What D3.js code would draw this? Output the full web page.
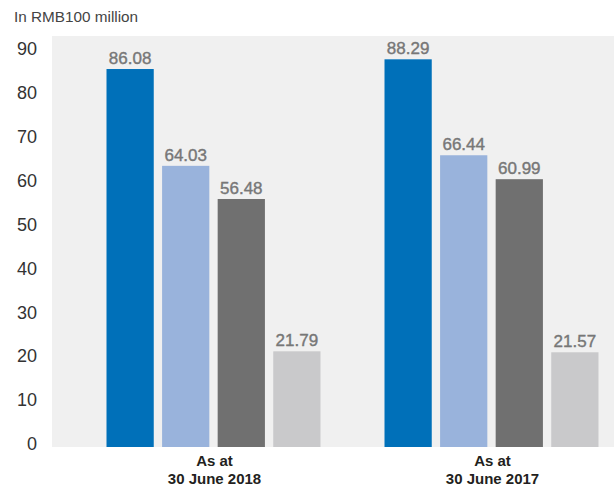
<!DOCTYPE html>
<html>
<head>
<meta charset="utf-8">
<script src="https://cdn.jsdelivr.net/npm/d3@7"></script>
<style>
  html, body { margin: 0; padding: 0; background: #ffffff; }
  svg { display: block; font-family: "Liberation Sans", Arial, Helvetica, sans-serif; }
</style>
</head>
<body>
<svg id="chart" width="614" height="490"></svg>
<script>
// ---- data ----
const categories = ["As at|30 June 2018", "As at|30 June 2017"];
const seriesNames = ["Series A", "Series B", "Series C", "Series D"];
const seriesColors = ["#0070b9", "#99b3dc", "#707070", "#c9c9cb"];
const valuesA = [86.08, 88.29];
const valuesB = [64.03, 66.44];
const valuesC = [56.48, 60.99];
const valuesD = [21.79, 21.57];
const yTicks = [0, 10, 20, 30, 40, 50, 60, 70, 80, 90];
const unitLabel = "In RMB100 million";

const seriesValues = [valuesA, valuesB, valuesC, valuesD];
const data = categories.map((c, i) => ({
  cat: c,
  vals: seriesNames.map((s, j) => ({ key: s, value: seriesValues[j][i], color: seriesColors[j] }))
}));

// ---- layout ----
const svg = d3.select("#chart");
const panel = { left: 52, right: 614, top: 36, bottom: 447 };

const y = d3.scaleLinear().domain([0, 93.6]).range([panel.bottom, panel.top]);
const x0 = d3.scaleBand().domain(categories).range([74.5, 630.5]).padding(0);
const x1 = d3.scaleBand().domain(seriesNames).range([-107, 107]).paddingInner(0.15).paddingOuter(0);

// panel background
svg.append("rect")
  .attr("x", panel.left).attr("y", panel.top)
  .attr("width", panel.right - panel.left).attr("height", panel.bottom - panel.top)
  .attr("fill", "#f0f0f0");

// unit label
svg.append("text")
  .attr("x", 14).attr("y", 22)
  .attr("font-size", 15.3).attr("fill", "#444")
  .text(unitLabel);

// y axis tick labels
svg.append("g").selectAll("text").data(yTicks).join("text")
  .attr("x", 37).attr("y", d => y(d) - 3)
  .attr("dy", "0.35em")
  .attr("text-anchor", "end")
  .attr("font-size", 18).attr("fill", "#333")
  .text(d => d);

// bars
const groups = svg.append("g").selectAll("g").data(data).join("g")
  .attr("transform", d => `translate(${x0(d.cat) + x0.bandwidth() / 2},0)`);

groups.selectAll("rect").data(d => d.vals).join("rect")
  .attr("x", d => x1(d.key))
  .attr("width", x1.bandwidth())
  .attr("y", d => y(d.value))
  .attr("height", d => y(0) - y(d.value))
  .attr("fill", d => d.color);

groups.selectAll("text.val").data(d => d.vals).join("text")
  .attr("class", "val")
  .attr("x", d => x1(d.key) + x1.bandwidth() / 2)
  .attr("y", d => y(d.value) - 5)
  .attr("text-anchor", "middle")
  .attr("font-size", 17).attr("fill", "#777")
  .attr("stroke", "#777").attr("stroke-width", 0.4)
  .text(d => d.value.toFixed(2));

// category labels
groups.each(function(d) {
  const lines = d.cat.split("|");
  const t = d3.select(this).append("text")
    .attr("text-anchor", "middle")
    .attr("font-size", 15).attr("font-weight", "bold").attr("fill", "#231f20");
  lines.forEach((l, i) => {
    t.append("tspan").attr("x", 1).attr("y", 466 + i * 18).text(l);
  });
});
</script>
</body>
</html>
